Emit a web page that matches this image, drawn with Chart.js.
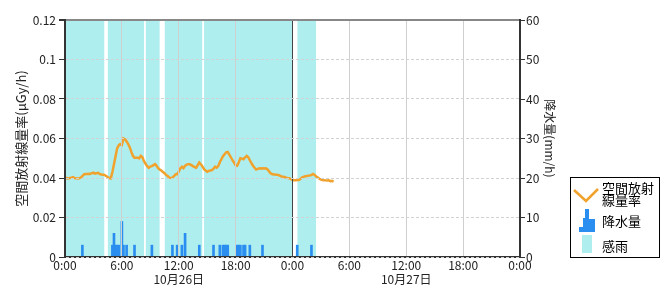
<!DOCTYPE html>
<html>
<head>
<meta charset="utf-8">
<script src="https://cdn.jsdelivr.net/npm/chart.js@4"></script>
<style>
	html, body { margin: 0; padding: 0; background: #fff; }
	#wrap { width: 670px; height: 300px; }
</style>
</head>
<body>
<div id="wrap"><canvas id="dose-chart" width="670" height="300"></canvas></div>
<script>
//
// Data
//

// Air dose rate every 10 minutes from 10/26 0:00 (μGy/h)
var doseStart = '10/26 00:00';
var doseRate = [
	0.0399, 0.0400, 0.0398, 0.0400, 0.0402, 0.0405, 0.0400, 0.0399, 0.0398, 0.0399,
	0.0402, 0.0410, 0.0418, 0.0420, 0.0420, 0.0421, 0.0420, 0.0425, 0.0427, 0.0422,
	0.0424, 0.0426, 0.0420, 0.0418, 0.0417, 0.0415, 0.0410, 0.0405, 0.0400, 0.0398,
	0.0430, 0.0470, 0.0510, 0.0550, 0.0565, 0.0572, 0.0568, 0.0600, 0.0595, 0.0585,
	0.0572, 0.0555, 0.0532, 0.0512, 0.0502, 0.0502, 0.0502, 0.0500, 0.0512, 0.0505,
	0.0485, 0.0472, 0.0460, 0.0452, 0.0458, 0.0460, 0.0465, 0.0470, 0.0462, 0.0450,
	0.0442, 0.0438, 0.0430, 0.0424, 0.0415, 0.0410, 0.0402, 0.0400, 0.0402, 0.0410,
	0.0418, 0.0420, 0.0432, 0.0448, 0.0457, 0.0450, 0.0462, 0.0468, 0.0470, 0.0470,
	0.0465, 0.0460, 0.0455, 0.0452, 0.0465, 0.0478, 0.0470, 0.0458, 0.0445, 0.0438,
	0.0432, 0.0436, 0.0438, 0.0440, 0.0447, 0.0457, 0.0452, 0.0460, 0.0480, 0.0495,
	0.0510, 0.0520, 0.0530, 0.0532, 0.0518, 0.0505, 0.0490, 0.0478, 0.0465, 0.0462,
	0.0480, 0.0500, 0.0498, 0.0495, 0.0505, 0.0512, 0.0505, 0.0490, 0.0475, 0.0462,
	0.0452, 0.0443, 0.0446, 0.0449, 0.0448, 0.0449, 0.0448, 0.0449, 0.0445, 0.0435,
	0.0425, 0.0420, 0.0418, 0.0418, 0.0416, 0.0415, 0.0412, 0.0408, 0.0407, 0.0405,
	0.0402, 0.0400, 0.0399, 0.0395, 0.0390, 0.0388, 0.0388, 0.0390, 0.0390, 0.0395,
	0.0402, 0.0406, 0.0409, 0.0410, 0.0412, 0.0413, 0.0416, 0.0420, 0.0415, 0.0408,
	0.0402, 0.0396, 0.0392, 0.0390, 0.0389, 0.0388, 0.0387, 0.0388, 0.0384, 0.0386,
	0.0381
];

// Precipitation (mm/h)
var rainTime = [
	'10/26 01:50', '10/26 05:00', '10/26 05:10', '10/26 05:20', '10/26 05:30', '10/26 05:40',
	'10/26 06:00', '10/26 06:10', '10/26 06:30', '10/26 07:20', '10/26 09:10', '10/26 11:20',
	'10/26 11:50', '10/26 12:20', '10/26 12:40', '10/26 14:10', '10/26 15:40', '10/26 16:20',
	'10/26 16:40', '10/26 16:50', '10/26 17:00', '10/26 17:10', '10/26 18:10', '10/26 18:20',
	'10/26 18:30', '10/26 18:50', '10/26 19:00', '10/26 19:30', '10/26 20:50', '10/27 00:30',
	'10/27 02:00'
];
var rainValue = [
	3, 3, 6, 3, 3, 3,
	9, 3, 3, 3, 3, 3,
	3, 3, 6, 3, 3, 3,
	3, 3, 3, 3, 3, 3,
	3, 3, 3, 3, 3, 3,
	3
];

// Rain sensor on (感雨)
var senseStart = ['10/26 00:00', '10/26 04:30', '10/26 08:30', '10/26 10:30', '10/26 14:40', '10/27 00:30'];
var senseEnd   = ['10/26 04:10', '10/26 08:20', '10/26 10:00', '10/26 14:30', '10/27 00:00', '10/27 02:30'];

// Labels
var dayLabels = ['10月26日', '10月27日'];
var legendLabels = [['空間放射', '線量率'], ['降水量'], ['感雨']];


//
// Helpers
//

var FONT = '"Noto Sans CJK JP", "Noto Sans", sans-serif';
var doseColor = '#f0a22c';
var rainColor = '#2a8ef0';
var senseColor = '#afeeee';

// '10/27 02:30' -> hours since 10/26 0:00
function toHours(s) {
	var parts = s.split(' ');
	var day = parseInt(parts[0].split('/')[1], 10) - 26;
	var hm = parts[1].split(':');
	return day * 24 + parseInt(hm[0], 10) + parseInt(hm[1], 10) / 60;
}

var t0 = toHours(doseStart);
var dosePoints = doseRate.map(function(v, i) { return {x: t0 + i / 6, y: v}; });
var rainPoints = rainTime.map(function(t, i) { return {x: toHours(t), y: rainValue[i]}; });
var sensePoints = [];
senseStart.forEach(function(s, i) {
	sensePoints.push({x: toHours(s), y: 1});
	sensePoints.push({x: toHours(senseEnd[i]), y: 1});
	sensePoints.push({x: toHours(senseEnd[i]), y: null});
});

// Legend box at the lower right
var legendBox = {
	id: 'legendBox',
	afterDraw: function(chart) {
		var ctx = chart.ctx;
		ctx.save();
		ctx.fillStyle = '#fff';
		ctx.fillRect(570.5, 177.5, 89, 80);
		ctx.strokeStyle = '#000';
		ctx.lineWidth = 1;
		ctx.strokeRect(570.5, 177.5, 89, 80);

		ctx.strokeStyle = doseColor;
		ctx.lineWidth = 2.5;
		ctx.beginPath();
		ctx.moveTo(574, 190);
		ctx.lineTo(586, 201);
		ctx.lineTo(598, 189);
		ctx.stroke();

		ctx.fillStyle = rainColor;
		ctx.beginPath();
		ctx.moveTo(579, 232);
		ctx.lineTo(579, 227);
		ctx.lineTo(583, 227);
		ctx.lineTo(583, 218);
		ctx.lineTo(585, 218);
		ctx.lineTo(585, 209);
		ctx.lineTo(589, 209);
		ctx.lineTo(589, 219);
		ctx.lineTo(595, 219);
		ctx.lineTo(595, 232);
		ctx.closePath();
		ctx.fill();

		ctx.fillStyle = senseColor;
		ctx.fillRect(582, 235, 10, 18);

		ctx.fillStyle = '#000';
		ctx.font = '13px ' + FONT;
		ctx.textBaseline = 'middle';
		ctx.fillText(legendLabels[0][0], 602, 188);
		ctx.fillText(legendLabels[0][1], 602, 200);
		ctx.fillText(legendLabels[1][0], 602, 221);
		ctx.fillText(legendLabels[2][0], 602, 246);
		ctx.restore();
	}
};


//
// Chart
//

Chart.defaults.font.family = FONT;
Chart.defaults.font.size = 12;
Chart.defaults.color = '#222';

var doseChart = new Chart(document.getElementById('dose-chart'), {
	type: 'line',
	data: {
		datasets: [{
			label: '空間放射線量率',
			data: dosePoints,
			yAxisID: 'y',
			borderColor: doseColor,
			borderWidth: 2.5,
			pointRadius: 0,
			tension: 0,
			order: 1
		}, {
			type: 'bar',
			label: '降水量',
			data: rainPoints,
			yAxisID: 'y1',
			backgroundColor: rainColor,
			barThickness: 2,
			order: 2
		}, {
			label: '感雨',
			data: sensePoints,
			yAxisID: 'ys',
			fill: 'origin',
			backgroundColor: senseColor,
			borderColor: 'transparent',
			borderWidth: 0,
			pointRadius: 0,
			spanGaps: false,
			order: 3
		}]
	},
	options: {
		responsive: false,
		animation: false,
		devicePixelRatio: 1,
		layout: {padding: {left: 13, right: 113, top: 20, bottom: 0}},
		plugins: {
			legend: {display: false},
			tooltip: {enabled: false}
		},
		scales: {
			x: {
				type: 'linear',
				min: 0,
				max: 48,
				offset: false,
				ticks: {
					stepSize: 6,
					autoSkip: false,
					maxRotation: 0,
					padding: 1,
					callback: function(value) {
						var h = value % 24;
						var label = h + ':00';
						if (h === 12) return [label, dayLabels[Math.floor(value / 24)]];
						return label;
					}
				},
				grid: {
					z: 1,
					offset: false,
					drawTicks: false,
					color: function(c) { return c.tick && c.tick.value === 24 ? '#444' : '#cfcfcf'; }
				},
				border: {z: 1, color: '#333', width: 2},
				afterFit: function(scale) { scale.height = 43; }
			},
			y: {
				position: 'left',
				min: 0,
				max: 0.12,
				ticks: {
					stepSize: 0.02,
					padding: 3,
					callback: function(value) { return String(Math.round(value * 100) / 100); }
				},
				title: {display: true, text: '空間放射線量率(μGy/h)', padding: 0, font: {size: 13}},
				grid: {
					z: 1,
					tickLength: 6,
					tickColor: '#333',
					color: function(c) { return c.tick && c.tick.value > 0.119 ? '#888' : '#d2d2d2'; },
					lineWidth: function(c) { return c.tick && c.tick.value > 0.119 ? 2 : 1; }
				},
				border: {
					z: 1, color: '#333', width: 2,
					dash: function(c) { return c.tick && c.tick.value < 0.119 ? [3, 2] : []; }
				},
				afterFit: function(scale) { scale.width = 52; }
			},
			y1: {
				position: 'right',
				min: 0,
				max: 60,
				ticks: {stepSize: 10, padding: 1},
				title: {display: true, text: '降水量(mm/h)', padding: 0},
				grid: {z: 1, drawOnChartArea: false, tickLength: 5, tickColor: '#333'},
				border: {z: 1, color: '#333', width: 2},
				afterFit: function(scale) { scale.width = 37; }
			},
			ys: {
				display: false,
				min: 0,
				max: 1
			}
		}
	},
	plugins: [legendBox]
});
</script>
</body>
</html>
